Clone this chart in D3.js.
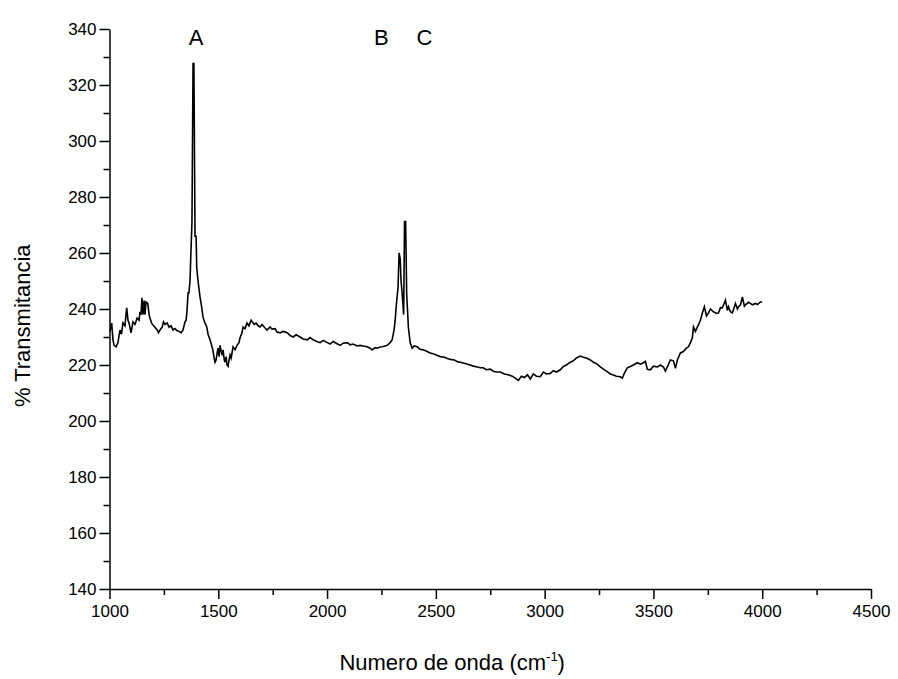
<!DOCTYPE html>
<html>
<head>
<meta charset="utf-8">
<script src="https://cdn.jsdelivr.net/npm/d3@7"></script>
<style>
  body { margin: 0; background: #fff; }
  text { font-family: "Liberation Sans", Arial, sans-serif; fill: #000; }
</style>
</head>
<body>
<div id="chart"></div>
<script>
// numero de onda (cm-1)
const wavenumber = [
  1002, 1010, 1016, 1021, 1030, 1039, 1048, 1055, 1062, 1071, 1079, 1085, 1090, 1099, 1108, 1117, 1127, 1136, 1140, 1145,
  1149, 1154, 1159, 1163, 1168, 1176, 1182, 1186, 1193, 1200, 1209, 1219, 1225, 1232, 1242, 1248, 1255, 1265, 1274, 1283,
  1292, 1301, 1310, 1320, 1329, 1338, 1347, 1352, 1356, 1361, 1365, 1370, 1375, 1379, 1384, 1388, 1393, 1398, 1401, 1407,
  1416, 1423, 1430, 1439, 1447, 1453, 1462, 1475, 1481, 1485, 1490, 1494, 1499, 1504, 1508, 1513, 1517, 1522, 1527, 1531,
  1536, 1540, 1545, 1550, 1554, 1559, 1568, 1577, 1586, 1595, 1600, 1609, 1614, 1623, 1632, 1641, 1651, 1656, 1665, 1674,
  1683, 1692, 1701, 1715, 1724, 1738, 1747, 1761, 1770, 1784, 1798, 1817, 1830, 1844, 1858, 1876, 1890, 1909, 1922, 1936,
  1955, 1968, 1982, 2001, 2014, 2028, 2046, 2060, 2074, 2093, 2106, 2120, 2138, 2152, 2166, 2184, 2198, 2207, 2221, 2230,
  2244, 2253, 2267, 2276, 2290, 2299, 2308, 2313, 2319, 2326, 2331, 2336, 2340, 2345, 2352, 2356, 2361, 2366, 2374, 2382,
  2391, 2400, 2414, 2428, 2442, 2455, 2474, 2488, 2502, 2520, 2539, 2553, 2566, 2585, 2599, 2612, 2631, 2645, 2658, 2672,
  2686, 2704, 2718, 2732, 2750, 2764, 2778, 2796, 2815, 2833, 2851, 2865, 2879, 2893, 2907, 2921, 2934, 2948, 2962, 2980,
  2994, 3008, 3026, 3040, 3054, 3072, 3086, 3100, 3118, 3132, 3146, 3164, 3178, 3192, 3210, 3224, 3238, 3256, 3270, 3284,
  3302, 3316, 3330, 3348, 3357, 3366, 3380, 3394, 3408, 3426, 3440, 3454, 3463, 3472, 3486, 3500, 3518, 3532, 3546, 3555,
  3564, 3578, 3592, 3601, 3610, 3624, 3638, 3651, 3661, 3670, 3679, 3684, 3693, 3702, 3707, 3716, 3725, 3734, 3744, 3753,
  3762, 3776, 3790, 3799, 3808, 3817, 3831, 3840, 3845, 3854, 3863, 3877, 3886, 3891, 3900, 3909, 3918, 3923, 3937, 3946,
  3955, 3969, 3978, 3992, 4000
];

// % transmitancia
const transmitancia = [
  232, 235, 229, 227, 226.5, 228, 232.5, 231, 235, 234, 240.4, 236, 235, 231.5, 235.4, 234.5, 236.8, 236, 239, 238,
  244, 238, 243, 238, 242.5, 242, 238, 236.8, 235, 234.3, 233.5, 232.5, 231.5, 232.5, 233.5, 235.4, 234.5, 235, 233.5, 234,
  232.5, 233, 232.3, 232, 231.5, 232.5, 235.4, 236, 239, 245.7, 245.7, 250, 262, 271, 327.7, 327.7, 266, 266, 254.7, 250,
  244.3, 241, 237, 235, 233.6, 231, 229, 225.4, 222.5, 221, 221.8, 224, 226, 223, 227, 225, 224, 225.4, 222, 221,
  223, 220, 219.5, 222, 223.6, 222.5, 226.5, 225.5, 227, 228, 229.7, 231.5, 233.6, 233, 235, 234, 236, 235.4, 234.5, 235,
  234, 233.6, 234.5, 233.2, 232.5, 233.6, 232.8, 233, 231.8, 231.5, 232, 231.5, 230.5, 230, 230.8, 230, 229.3, 229, 229.8, 229,
  228.3, 228, 228.8, 228, 227.5, 228.4, 227.6, 227, 227.8, 228, 227.2, 227.5, 226.8, 227, 226.8, 226.5, 226, 225.4, 226.2, 226,
  226.4, 226.5, 226.8, 227, 228, 229, 232.5, 236, 242, 247.5, 260, 258, 250, 245.7, 238, 271.2, 271.2, 245, 233.2, 228,
  226, 226.8, 226.5, 225.6, 225.4, 225, 224.3, 224, 223.6, 223, 222.8, 222.3, 222, 221.8, 221.2, 221, 220.6, 220.3, 220, 219.6,
  219.4, 219, 219, 218.3, 218.5, 217.8, 217.5, 217.5, 216.8, 216.5, 216, 215.3, 214.5, 216, 215.5, 216.5, 215, 216.8, 216, 215.8,
  217.5, 216.8, 217, 218, 217.5, 218.3, 219.5, 220, 221, 221.5, 222.5, 223.2, 222.8, 222.5, 221.8, 221, 220.5, 219.3, 218.5, 217.8,
  216.8, 216.4, 216, 215.8, 215.3, 217, 219, 219.5, 220, 220.8, 220.3, 220.8, 221.3, 218.5, 218.3, 219.6, 219.3, 220, 219.3, 217.8,
  219.3, 221.8, 221.5, 218.8, 221.8, 224.3, 224.8, 226, 226.5, 228, 229.7, 233.6, 232, 233.6, 234.3, 236, 238.6, 240.8, 237.5, 238.6,
  240, 239, 238.4, 238.6, 240.5, 240.4, 243.2, 239.5, 240.8, 239, 238.6, 242, 240, 240.8, 241.5, 244.3, 241, 241.5, 242.4, 242,
  241.5, 242, 241.6, 242.5, 242.5
];

// etiquetas de las bandas
const peakLabels = ["A", "B", "C"];
const peakPositions = [1398, 2249, 2447];

const xTicks = [1000, 1500, 2000, 2500, 3000, 3500, 4000, 4500];
const xMinorTicks = [1250, 1750, 2250, 2750, 3250, 3750, 4250];
const yTicks = [140, 160, 180, 200, 220, 240, 260, 280, 300, 320, 340];
const yMinorTicks = [150, 170, 190, 210, 230, 250, 270, 290, 310, 330];

const width = 898;
const height = 679;
const margin = { top: 29, right: 27, bottom: 90, left: 109.5 };
const chartWidth = width - margin.left - margin.right;
const chartHeight = height - margin.top - margin.bottom;

const svg = d3
  .select("#chart")
  .append("svg")
  .attr("width", width)
  .attr("height", height);

const g = svg.append("g").attr("transform", `translate(${margin.left},${margin.top})`);

const xScale = d3.scaleLinear().domain([1000, 4500]).range([0, chartWidth]);
const yScale = d3.scaleLinear().domain([140, 340]).range([chartHeight, 0]);

// ticks menores
g.append("g")
  .attr("transform", `translate(0,${chartHeight})`)
  .call(d3.axisBottom(xScale).tickValues(xMinorTicks).tickSize(6).tickFormat(""))
  .call((a) => a.select(".domain").remove())
  .selectAll("line").attr("stroke-width", 1.5);

g.append("g")
  .call(d3.axisLeft(yScale).tickValues(yMinorTicks).tickSize(6).tickFormat(""))
  .call((a) => a.select(".domain").remove())
  .selectAll("line").attr("stroke-width", 1.5);

// eje x
const xAxis = g
  .append("g")
  .attr("transform", `translate(0,${chartHeight})`)
  .call(d3.axisBottom(xScale).tickValues(xTicks).tickSize(10).tickSizeOuter(0).tickPadding(6).tickFormat(d3.format("d")));

// eje y
const yAxis = g
  .append("g")
  .call(d3.axisLeft(yScale).tickValues(yTicks).tickSize(10).tickSizeOuter(0).tickPadding(3).tickFormat(d3.format("d")));

[xAxis, yAxis].forEach((ax) => {
  ax.select(".domain").attr("stroke-width", 1.5);
  ax.selectAll(".tick line").attr("stroke-width", 1.5);
  ax.selectAll("text").style("font-size", "17px").attr("fill", "#000");
});

// espectro
const points = wavenumber.map((w, i) => [w, transmitancia[i]]);
const line = d3
  .line()
  .x((d) => xScale(d[0]))
  .y((d) => yScale(d[1]));

g.append("path")
  .datum(points)
  .attr("fill", "none")
  .attr("stroke", "#000")
  .attr("stroke-width", 1.6)
  .attr("stroke-linejoin", "miter")
  .attr("d", line);

// letras de las bandas
g.selectAll(".peak-label")
  .data(peakLabels)
  .enter()
  .append("text")
  .attr("class", "peak-label")
  .attr("x", (d, i) => xScale(peakPositions[i]))
  .attr("y", yScale(334.3))
  .attr("text-anchor", "middle")
  .style("font-size", "22px")
  .text((d) => d);

// titulos de los ejes
const xTitle = svg
  .append("text")
  .attr("x", margin.left + xScale(2575))
  .attr("y", 670)
  .attr("text-anchor", "middle")
  .style("font-size", "22px");
xTitle.append("tspan").text("Numero de onda (cm");
xTitle.append("tspan").attr("dy", -9).style("font-size", "13px").text("-1");
xTitle.append("tspan").attr("dy", 9).text(")");

svg
  .append("text")
  .attr("transform", `translate(30,${margin.top + yScale(234)}) rotate(-90)`)
  .attr("text-anchor", "middle")
  .style("font-size", "22px")
  .text("% Transmitancia");
</script>
</body>
</html>
